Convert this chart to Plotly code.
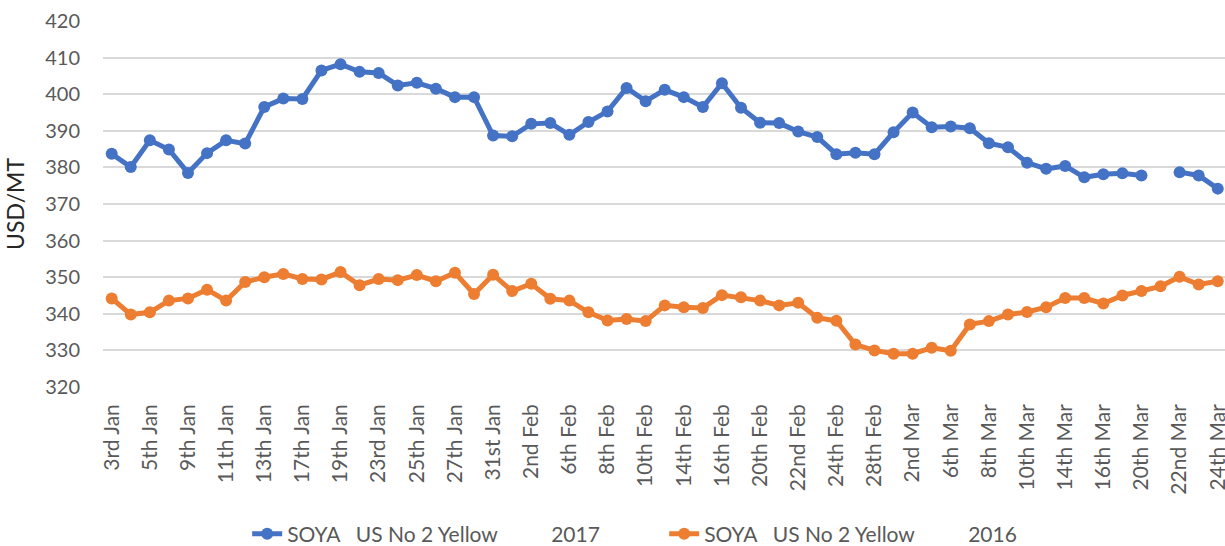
import plotly.graph_objects as go

dates = [
    "3rd Jan", "4th Jan", "5th Jan", "6th Jan", "9th Jan", "10th Jan", "11th Jan", "12th Jan",
    "13th Jan", "16th Jan", "17th Jan", "18th Jan", "19th Jan", "20th Jan", "23rd Jan", "24th Jan",
    "25th Jan", "26th Jan", "27th Jan", "30th Jan", "31st Jan", "1st Feb", "2nd Feb", "3rd Feb",
    "6th Feb", "7th Feb", "8th Feb", "9th Feb", "10th Feb", "13th Feb", "14th Feb", "15th Feb",
    "16th Feb", "17th Feb", "20th Feb", "21st Feb", "22nd Feb", "23rd Feb", "24th Feb", "27th Feb",
    "28th Feb", "1st Mar", "2nd Mar", "3rd Mar", "6th Mar", "7th Mar", "8th Mar", "9th Mar",
    "10th Mar", "13th Mar", "14th Mar", "15th Mar", "16th Mar", "17th Mar", "20th Mar", "21st Mar",
    "22nd Mar", "23rd Mar", "24th Mar",
]

soya_2017 = [
    383.7, 380.1, 387.4, 384.9, 378.5, 383.9, 387.4, 386.5,
    396.5, 398.8, 398.7, 406.5, 408.2, 406.1, 405.8, 402.4,
    403.1, 401.5, 399.2, 399.2, 388.7, 388.5, 391.9, 392.1,
    388.9, 392.4, 395.3, 401.7, 398.1, 401.2, 399.2, 396.5,
    403.0, 396.3, 392.2, 392.1, 389.8, 388.3, 383.6, 384.0,
    383.6, 389.6, 395.0, 391.0, 391.2, 390.7, 386.6, 385.5,
    381.3, 379.6, 380.4, 377.3, 378.1, 378.4, 377.8, None,
    378.7, 377.8, 374.2,
]

soya_2016 = [
    344.2, 339.8, 340.4, 343.6, 344.2, 346.6, 343.6, 348.7,
    350.0, 350.9, 349.5, 349.4, 351.4, 347.8, 349.5, 349.2,
    350.6, 348.9, 351.2, 345.4, 350.7, 346.2, 348.2, 344.1,
    343.6, 340.4, 338.2, 338.6, 338.0, 342.3, 341.8, 341.6,
    345.1, 344.5, 343.6, 342.3, 343.0, 338.9, 338.1, 331.6,
    330.0, 329.1, 329.1, 330.7, 329.9, 337.1, 338.0, 339.8,
    340.5, 341.8, 344.3, 344.3, 342.8, 345.0, 346.2, 347.5,
    350.1, 348.0, 348.9,
]

tick_labels = [
    "3rd Jan", "5th Jan", "9th Jan", "11th Jan", "13th Jan", "17th Jan", "19th Jan", "23rd Jan",
    "25th Jan", "27th Jan", "31st Jan", "2nd Feb", "6th Feb", "8th Feb", "10th Feb", "14th Feb",
    "16th Feb", "20th Feb", "22nd Feb", "24th Feb", "28th Feb", "2nd Mar", "6th Mar", "8th Mar",
    "10th Mar", "14th Mar", "16th Mar", "20th Mar", "22nd Mar", "24th Mar",
]

NB = "\u00a0"
name_2017 = "SOYA" + NB * 3 + "US No 2 Yellow" + NB * 10 + "2017"
name_2016 = "SOYA" + NB * 3 + "US No 2 Yellow" + NB * 10 + "2016"

BLUE = "#4472C4"
ORANGE = "#ED7D31"
FONT = "Lato"

fig = go.Figure()
fig.add_trace(go.Scatter(
    x=dates, y=soya_2017, name=name_2017, mode="lines+markers",
    line=dict(color=BLUE, width=5), marker=dict(color=BLUE, size=12),
    connectgaps=False,
))
fig.add_trace(go.Scatter(
    x=dates, y=soya_2016, name=name_2016, mode="lines+markers",
    line=dict(color=ORANGE, width=5), marker=dict(color=ORANGE, size=12),
))

fig.update_layout(
    width=1225, height=546,
    margin=dict(l=103, r=0, t=21, b=159, autoexpand=False),
    paper_bgcolor="white", plot_bgcolor="white",
    font=dict(family=FONT, color="#595959"),
    showlegend=True,
    legend=dict(
        orientation="h", x=0.1285, xanchor="left", y=-0.4016, yanchor="middle",
        font=dict(family=FONT, size=21, color="#595959"),
        entrywidth=372, entrywidthmode="pixels",
        bgcolor="rgba(0,0,0,0)", itemclick=False,
    ),
)

fig.update_xaxes(
    type="category", categoryorder="array", categoryarray=dates,
    range=[-0.456, 58.38],
    tickmode="array", tickvals=tick_labels, ticktext=tick_labels,
    tickangle=-90, tickfont=dict(family=FONT, size=21, color="#595959"),
    ticks="", showgrid=False, showline=False, zeroline=False,
    ticklabelstandoff=12, automargin=False,
)

fig.update_yaxes(
    range=[320, 420], tickmode="array", tickvals=list(range(320, 421, 10)),
    tickfont=dict(family=FONT, size=20, color="#595959"),
    showgrid=True, gridcolor="#D9D9D9", gridwidth=1.5,
    zeroline=False, showline=False, ticks="",
    ticklabelstandoff=22, automargin=False,
    title=dict(text="USD/MT", font=dict(family=FONT, size=23, color="#262626"), standoff=14),
)

fig.write_html(
    "out.html",
    config={"displayModeBar": False},
    post_script="document.body.style.margin='0';document.body.style.overflow='hidden';",
)
